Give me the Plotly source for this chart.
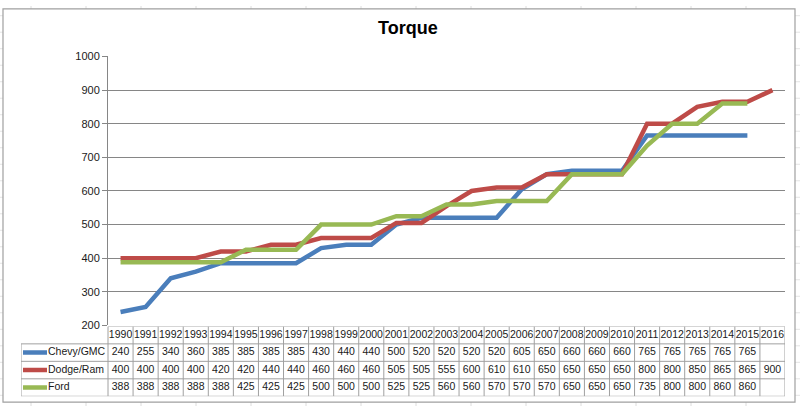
import plotly.graph_objects as go

W, H = 800, 412

years = list(range(1990, 2017))
series_names = ["Chevy/GMC", "Dodge/Ram", "Ford"]
chevy = [240, 255, 340, 360, 385, 385, 385, 385, 430, 440, 440, 500, 520, 520, 520, 520,
         605, 650, 660, 660, 660, 765, 765, 765, 765, 765, None]
dodge = [400, 400, 400, 400, 420, 420, 440, 440, 460, 460, 460, 505, 505, 555, 600, 610,
         610, 650, 650, 650, 650, 800, 800, 850, 865, 865, 900]
ford = [388, 388, 388, 388, 388, 425, 425, 425, 500, 500, 500, 525, 525, 560, 560, 570,
        570, 570, 650, 650, 650, 735, 800, 800, 860, 860, None]
y_ticks = [200, 300, 400, 500, 600, 700, 800, 900, 1000]

colors = ["#4a7ebb", "#be4b48", "#98b954"]
grid_color = "#868686"
cell_line = "#a0a0a0"
text_color = "#1a1a1a"
FONT = "Liberation Sans"


def px(x):
    return x / W


def py(y):
    return 1 - y / H


#  pixel layout of the chart
plot_l, plot_r, plot_t, plot_b = 108, 785, 52, 329
tab_l, tab_t, tab_b = 21, 330, 402
cell_w = (plot_r - plot_l) / len(years)
x_lo = years[0] - 0.5
x_hi = years[-1] + 0.5
x2_lo = x_lo - (plot_l - tab_l) / cell_w

fig = go.Figure()

#  chart lines
for name, vals, c in zip(series_names, [chevy, dodge, ford], colors):
    fig.add_trace(go.Scatter(x=years, y=vals, mode="lines", name=name,
                             line=dict(color=c, width=4.5), xaxis="x", yaxis="y",
                             hoverinfo="skip", connectgaps=False))

#  data table: header row of years + one row per series
fig.add_trace(go.Scatter(x=years, y=[3.5] * len(years), mode="text",
                         text=[str(v) for v in years], xaxis="x2", yaxis="y2",
                         textfont=dict(family=FONT, size=10.5, color=text_color),
                         hoverinfo="skip"))
for row, vals in enumerate([chevy, dodge, ford]):
    fig.add_trace(go.Scatter(x=years, y=[2.5 - row] * len(years), mode="text",
                             text=["" if v is None else str(v) for v in vals],
                             xaxis="x2", yaxis="y2",
                             textfont=dict(family=FONT, size=10.5, color=text_color),
                             hoverinfo="skip"))
    #  legend key + label in the first column
    lab_x = x2_lo + 27 / cell_w
    fig.add_trace(go.Scatter(x=[lab_x], y=[2.5 - row], mode="text",
                             text=[series_names[row]], textposition="middle right",
                             xaxis="x2", yaxis="y2",
                             textfont=dict(family=FONT, size=10.5, color=text_color),
                             hoverinfo="skip"))

shapes = []
#  spreadsheet grid outside the chart frame
for gx in range(31, W, 55):
    shapes.append(dict(type="line", xref="paper", yref="paper", x0=px(gx), x1=px(gx),
                       y0=0, y1=1, line=dict(color="#dcdcdc", width=1), layer="below"))
for gy in range(10, H, 17):
    shapes.append(dict(type="line", xref="paper", yref="paper", x0=0, x1=1,
                       y0=py(gy), y1=py(gy), line=dict(color="#e4e4e4", width=1), layer="below"))
#  chart frame
shapes.append(dict(type="rect", xref="paper", yref="paper", x0=px(3), x1=px(795),
                   y0=py(408), y1=py(3), fillcolor="white",
                   line=dict(color="#a0a0a0", width=1.2), layer="below"))

#  table cell borders
for i in range(len(years) + 1):
    xv = x_lo + i
    shapes.append(dict(type="line", xref="x2", yref="y2", x0=xv, x1=xv, y0=0, y1=4,
                       line=dict(color=cell_line, width=1)))
shapes.append(dict(type="line", xref="x2", yref="y2", x0=x2_lo, x1=x2_lo, y0=0, y1=3,
                   line=dict(color=cell_line, width=1)))
for yv in [0, 1, 2, 3]:
    shapes.append(dict(type="line", xref="x2", yref="y2", x0=x2_lo, x1=x_hi, y0=yv, y1=yv,
                       line=dict(color=cell_line, width=1)))
shapes.append(dict(type="line", xref="x2", yref="y2", x0=x_lo, x1=x_hi, y0=4, y1=4,
                   line=dict(color=cell_line, width=1)))
#  legend keys
for row, c in enumerate(colors):
    shapes.append(dict(type="line", xref="x2", yref="y2",
                       x0=x2_lo + 2 / cell_w, x1=x2_lo + 26 / cell_w,
                       y0=2.5 - row, y1=2.5 - row, line=dict(color=c, width=4.5)))

fig.update_layout(
    width=W, height=H,
    margin=dict(l=0, r=0, t=0, b=0),
    paper_bgcolor="white", plot_bgcolor="rgba(0,0,0,0)",
    showlegend=False,
    font=dict(family=FONT, size=11, color=text_color),
    shapes=shapes,
    annotations=[dict(text="<b>Torque</b>", xref="paper", yref="paper",
                      x=px(408), y=py(23), yanchor="middle", showarrow=False,
                      font=dict(family=FONT, size=18, color="black"))],
    xaxis=dict(domain=[px(plot_l), px(plot_r)], range=[x_lo, x_hi], showgrid=False,
               showticklabels=False, zeroline=False, fixedrange=True),
    yaxis=dict(domain=[py(plot_b), py(plot_t)], range=[200, 1000], tickvals=y_ticks,
               showgrid=True, gridcolor=grid_color, gridwidth=1, zeroline=False,
               showline=True, linecolor=grid_color, linewidth=1,
               ticks="outside", ticklen=5, tickcolor=grid_color,
               tickfont=dict(family=FONT, size=11, color=text_color), fixedrange=True),
    xaxis2=dict(domain=[px(tab_l), px(plot_r)], range=[x2_lo, x_hi], visible=False,
                anchor="y2", fixedrange=True),
    yaxis2=dict(domain=[py(tab_b), py(tab_t)], range=[0, 4], visible=False,
                anchor="x2", fixedrange=True),
)

#  drop the default page margin so the figure sits at the window's top-left
fig.write_html("out.html", config={"displayModeBar": False},
               post_script="document.body.style.margin='0';")
